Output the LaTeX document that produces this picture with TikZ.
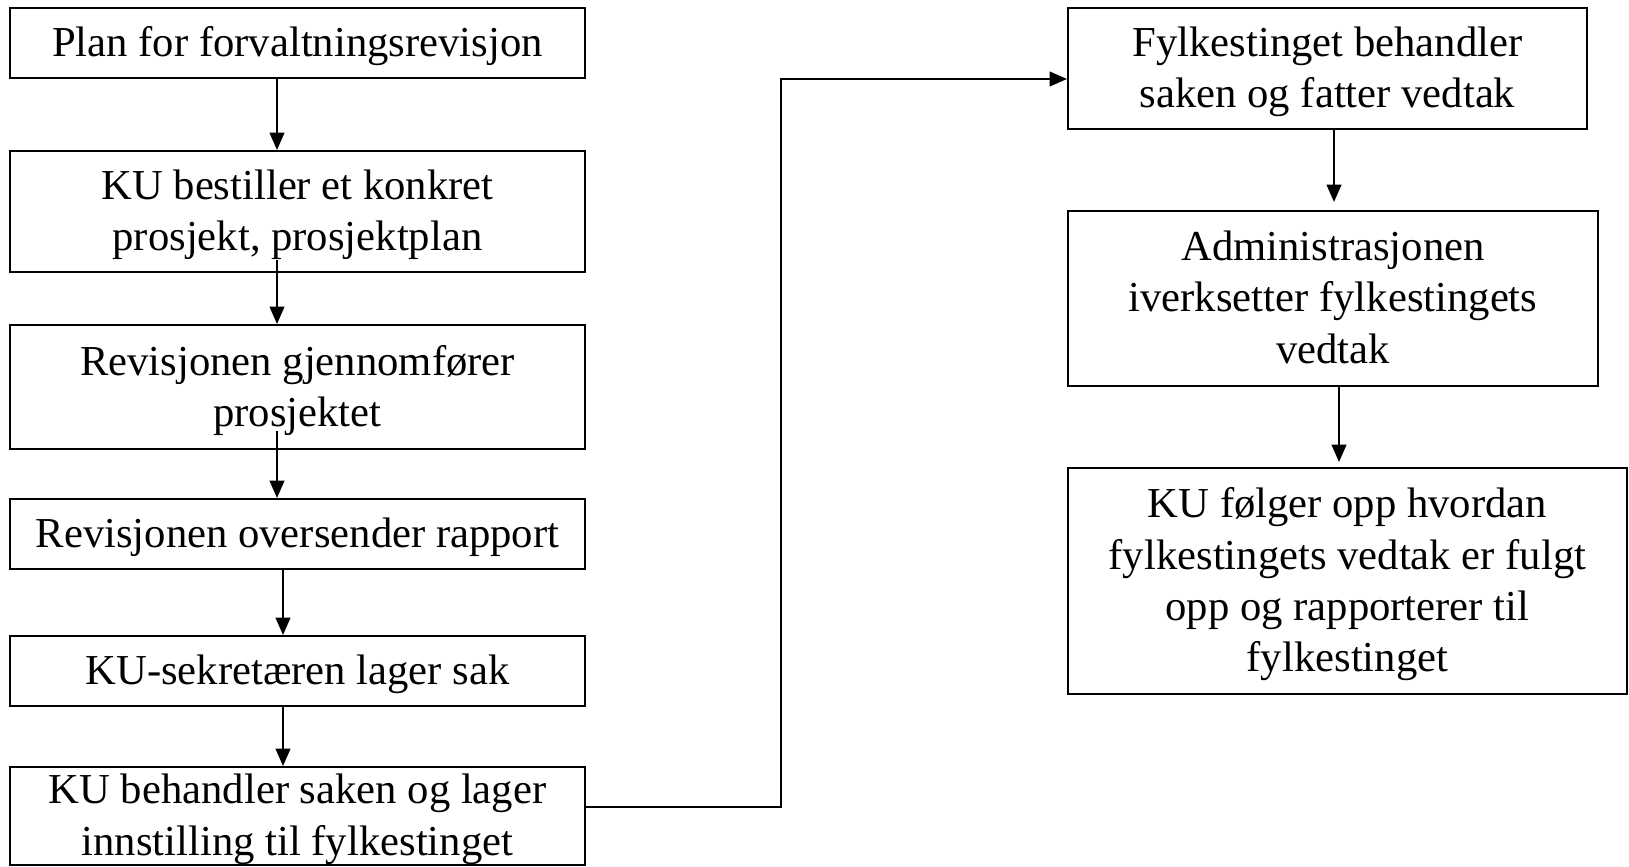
\documentclass[tikz,border=0pt]{standalone}
\usepackage{fontspec}
\setmainfont{Liberation Serif}
\usetikzlibrary{arrows.meta,calc}
\begin{document}
\begin{tikzpicture}[x=0.75pt,y=-0.75pt,
  box/.style={draw,line width=1.5pt,inner sep=0pt,align=center,text depth=2pt,
    font=\fontsize{32}{38.5}\selectfont},
  arr/.style={line width=1.5pt,-{Triangle[length=13pt,width=11pt]}}]
\useasboundingbox (0,0) rectangle (1629,867);
% left column
\node[box,minimum width={575*0.75pt},minimum height={70*0.75pt}] (b1) at (297.5,43) {Plan for forvaltningsrevisjon};
\node[box,minimum width={575*0.75pt},minimum height={121*0.75pt}] (b2) at (297.5,211.5) {KU bestiller et konkret\\prosjekt, prosjektplan};
\node[box,minimum width={575*0.75pt},minimum height={124*0.75pt}] (b3) at (297.5,387) {Revisjonen gjennomfører\\prosjektet};
\node[box,minimum width={575*0.75pt},minimum height={70*0.75pt}] (b4) at (297.5,534) {Revisjonen oversender rapport};
\node[box,minimum width={575*0.75pt},minimum height={70*0.75pt}] (b5) at (297.5,671) {KU-sekretæren lager sak};
\node[box,minimum width={575*0.75pt},minimum height={98*0.75pt}] (b6) at (297.5,816) {KU behandler saken og lager\\innstilling til fylkestinget};
% right column
\node[box,minimum width={519*0.75pt},minimum height={121*0.75pt}] (b7) at (1327.5,68.5) {Fylkestinget behandler\\saken og fatter vedtak};
\node[box,minimum width={530*0.75pt},minimum height={175*0.75pt}] (b8) at (1333,298.5) {Administrasjonen\\iverksetter fylkestingets\\vedtak};
\node[box,minimum width={559*0.75pt},minimum height={226*0.75pt}] (b9) at (1347.5,581) {KU følger opp hvordan\\fylkestingets vedtak er fulgt\\opp og rapporterer til\\fylkestinget};
% guide coordinates
\coordinate (cA) at (277,0);
\coordinate (cB) at (283,0);
\coordinate (s2) at (277,260);
\coordinate (s3) at (277,431);
\coordinate (cR1) at (1334,0);
\coordinate (cR2) at (1339,0);
\coordinate (k1) at (781,807);
\coordinate (k2) at (781,79);
\coordinate (e8) at ($(b8.north -| cR1)+(0,-8)$);
\coordinate (e9) at ($(b9.north -| cR2)+(0,-5)$);
% connectors
\draw[arr] (b1.south -| cA) -- (b2.north -| cA);
\draw[arr] (s2) -- (b3.north -| s2);
\draw[arr] (s3) -- (b4.north -| s3);
\draw[arr] (b4.south -| cB) -- (b5.north -| cB);
\draw[arr] (b5.south -| cB) -- (b6.north -| cB);
\draw[arr] (b6.east |- k1) -- (k1) -- (k2) -- (b7.west |- k2);
\draw[arr] (b7.south -| cR1) -- (e8);
\draw[arr] (b8.south -| cR2) -- (e9);
\end{tikzpicture}
\end{document}
